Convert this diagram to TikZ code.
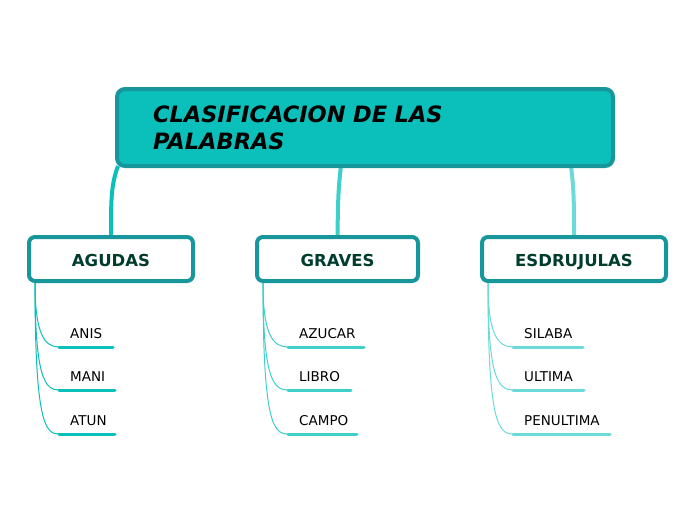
\documentclass[tikz,border=0pt]{standalone}
\usepackage{fontspec}
\setmainfont{DejaVu Sans}
\usetikzlibrary{backgrounds,calc}
\definecolor{mainfill}{HTML}{0BBFBA}
\definecolor{mainborder}{HTML}{17979B}
\definecolor{childtext}{HTML}{003D2D}
\definecolor{cA}{HTML}{0BBFBA}
\definecolor{cB}{HTML}{3ECFCB}
\definecolor{cC}{HTML}{6BDAD9}
\tikzset{
  mainbox/.style={draw=mainborder, fill=mainfill, line width=4pt, rounded corners=8pt,
    minimum width=496pt, minimum height=77pt, inner sep=0pt, text width=424pt, align=left,
    font=\fontsize{22.5}{27}\selectfont\bfseries\itshape},
  childbox/.style={draw=mainborder, fill=white, line width=4pt, rounded corners=6pt,
    minimum height=44pt, inner sep=0pt, text=childtext, text height=14pt, text depth=0pt,
    font=\fontsize{16.5}{20}\selectfont\bfseries},
  trunk/.style={line width=4pt},
  item/.style={anchor=base west, inner sep=0pt, font=\fontsize{13.5}{16}\selectfont},
  twig/.style={line width=1pt},
  uline/.style={line width=3pt, line cap=round},
}
\begin{document}
\begin{tikzpicture}[x=1pt,y=-1pt]
\useasboundingbox (0,0) rectangle (696,520);
\node[mainbox] (main) at (365,127.5) {\raisebox{-2pt}{CLASIFICACION DE LAS}\\\raisebox{-2pt}{PALABRAS}};
\node[childbox, minimum width=164pt] (agudas) at (111,259) {AGUDAS};
\node[childbox, minimum width=161pt] (graves) at (337.5,259) {GRAVES};
\node[childbox, minimum width=184pt] (esdr) at (574,259) {ESDRUJULAS};
% items
\node[item] (anis) at (70,338) {ANIS};
\node[item] (mani) at (70,381) {MANI};
\node[item] (atun) at (70,425) {ATUN};
\node[item] (azucar) at (299,338) {AZUCAR};
\node[item] (libro) at (299,381) {LIBRO};
\node[item] (campo) at (299,425) {CAMPO};
\node[item] (silaba) at (524,338) {SILABA};
\node[item] (ultima) at (524,381) {ULTIMA};
\node[item] (penultima) at (524,425) {PENULTIMA};
\begin{pgfonlayer}{background}
  \coordinate (m1) at (118,166);
  \coordinate (m2) at (341,166);
  \coordinate (m3) at (571,166);
  \draw[trunk, cA] (m1) .. controls (111,185) and (111,200) .. (agudas.north);
  \draw[trunk, cB] (m2) .. controls (338,190) and (338,205) .. (graves.north);
  \draw[trunk, cC] (m3) .. controls (574,190) and (574,205) .. (esdr.north);
  % AGUDAS
  \coordinate (aS) at (35,283);
  \coordinate (a1) at (59,347); \coordinate (a1e) at (113,347);
  \coordinate (a2) at (59,390); \coordinate (a2e) at (115,390);
  \coordinate (a3) at (59,434); \coordinate (a3e) at (115,434);
  \draw[twig, cA] (aS) .. controls (35,335) and (45,347) .. (a1);
  \draw[twig, cA] (aS) .. controls (35,378) and (45,390) .. (a2);
  \draw[twig, cA] (aS) .. controls (35,422) and (45,434) .. (a3);
  \draw[uline, cA] (a1) -- (a1e);
  \draw[uline, cA] (a2) -- (a2e);
  \draw[uline, cA] (a3) -- (a3e);
  % GRAVES
  \coordinate (gS) at (263,283);
  \coordinate (g1) at (288,347); \coordinate (g1e) at (364,347);
  \coordinate (g2) at (288,390); \coordinate (g2e) at (351,390);
  \coordinate (g3) at (288,434); \coordinate (g3e) at (357,434);
  \draw[twig, cB] (gS) .. controls (263,335) and (273,347) .. (g1);
  \draw[twig, cB] (gS) .. controls (263,378) and (273,390) .. (g2);
  \draw[twig, cB] (gS) .. controls (263,422) and (273,434) .. (g3);
  \draw[uline, cB] (g1) -- (g1e);
  \draw[uline, cB] (g2) -- (g2e);
  \draw[uline, cB] (g3) -- (g3e);
  % ESDRUJULAS
  \coordinate (eS) at (488,283);
  \coordinate (e1) at (513,347); \coordinate (e1e) at (583,347);
  \coordinate (e2) at (513,390); \coordinate (e2e) at (584,390);
  \coordinate (e3) at (513,434); \coordinate (e3e) at (610,434);
  \draw[twig, cC] (eS) .. controls (488,335) and (498,347) .. (e1);
  \draw[twig, cC] (eS) .. controls (488,378) and (498,390) .. (e2);
  \draw[twig, cC] (eS) .. controls (488,422) and (498,434) .. (e3);
  \draw[uline, cC] (e1) -- (e1e);
  \draw[uline, cC] (e2) -- (e2e);
  \draw[uline, cC] (e3) -- (e3e);
\end{pgfonlayer}
\end{tikzpicture}
\end{document}
